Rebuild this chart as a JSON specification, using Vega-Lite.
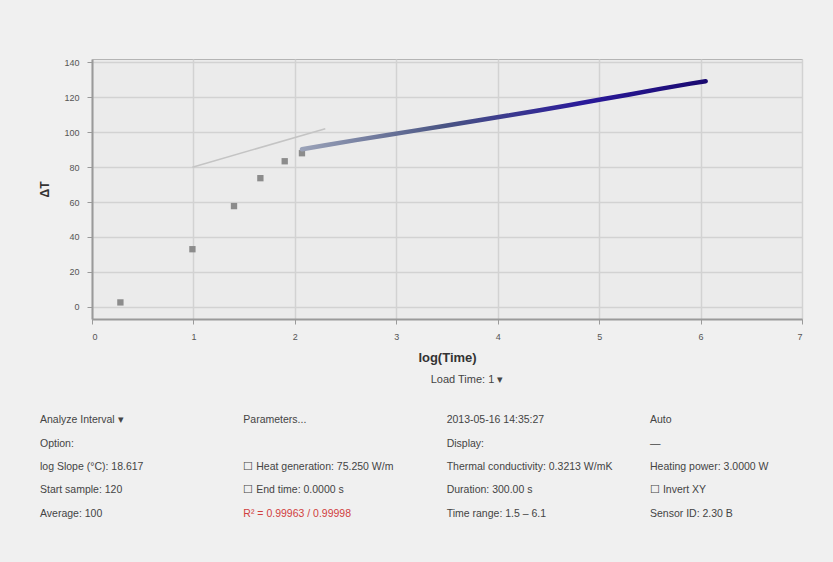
{
  "$schema": "https://vega.github.io/schema/vega-lite/v6.json",
  "background": "#f0f0f0",
  "padding": {"left": 38, "top": 57, "right": 31, "bottom": 43},
  "spacing": 9,
  "config": {
    "font": "Liberation Sans",
    "view": {"fill": "#ebebeb", "stroke": "#b4b4b4"},
    "axis": {
      "labelFont": "Liberation Sans",
      "titleFont": "Liberation Sans",
      "labelFontSize": 9,
      "labelColor": "#555555",
      "gridColor": "#d2d2d2",
      "gridWidth": 1.5,
      "domainColor": "#9a9a9a",
      "domainWidth": 2,
      "tickColor": "#9a9a9a"
    }
  },
  "datasets": {
    "early": [
      {"x": 0.28, "y": 2.5},
      {"x": 0.99, "y": 33},
      {"x": 1.40, "y": 57.7},
      {"x": 1.66, "y": 73.7},
      {"x": 1.90, "y": 83.4},
      {"x": 2.07, "y": 88.0}
    ],
    "trend": [
      {"x": 2.07, "y": 90.3},
      {"x": 2.30, "y": 92.6},
      {"x": 2.60, "y": 95.5},
      {"x": 2.90, "y": 98.3},
      {"x": 3.20, "y": 101.1},
      {"x": 3.50, "y": 103.9},
      {"x": 3.80, "y": 106.8},
      {"x": 4.10, "y": 109.6},
      {"x": 4.40, "y": 112.5},
      {"x": 4.70, "y": 115.5},
      {"x": 5.00, "y": 118.6},
      {"x": 5.30, "y": 121.7},
      {"x": 5.60, "y": 124.9},
      {"x": 5.90, "y": 127.9},
      {"x": 6.05, "y": 129.3}
    ],
    "fit": [
      {"x": 0.99, "y": 80.0},
      {"x": 2.30, "y": 102.0}
    ],
    "form": [
      {"row": 1, "col": 1, "text": "Analyze Interval ▾", "kind": "normal"},
      {"row": 1, "col": 2, "text": "Parameters...", "kind": "normal"},
      {"row": 1, "col": 3, "text": "2013-05-16 14:35:27", "kind": "normal"},
      {"row": 1, "col": 4, "text": "Auto", "kind": "normal"},
      {"row": 2, "col": 1, "text": "Option:", "kind": "normal"},
      {"row": 2, "col": 2, "text": "", "kind": "normal"},
      {"row": 2, "col": 3, "text": "Display:", "kind": "normal"},
      {"row": 2, "col": 4, "text": "—", "kind": "normal"},
      {"row": 3, "col": 1, "text": "log Slope (°C): 18.617", "kind": "normal"},
      {"row": 3, "col": 2, "text": "☐ Heat generation: 75.250 W/m", "kind": "normal"},
      {"row": 3, "col": 3, "text": "Thermal conductivity: 0.3213 W/mK", "kind": "normal"},
      {"row": 3, "col": 4, "text": "Heating power: 3.0000 W", "kind": "normal"},
      {"row": 4, "col": 1, "text": "Start sample: 120", "kind": "normal"},
      {"row": 4, "col": 2, "text": "☐ End time: 0.0000 s", "kind": "normal"},
      {"row": 4, "col": 3, "text": "Duration: 300.00 s", "kind": "normal"},
      {"row": 4, "col": 4, "text": "☐ Invert XY", "kind": "normal"},
      {"row": 5, "col": 1, "text": "Average: 100", "kind": "normal"},
      {"row": 5, "col": 2, "text": "R² = 0.99963 / 0.99998", "kind": "warning"},
      {"row": 5, "col": 3, "text": "Time range: 1.5 – 6.1", "kind": "normal"},
      {"row": 5, "col": 4, "text": "Sensor ID: 2.30 B", "kind": "normal"}
    ]
  },
  "vconcat": [
    {
      "width": 710,
      "height": 260,
      "encoding": {
        "x": {
          "field": "x",
          "type": "quantitative",
          "scale": {"domain": [0, 7], "nice": false},
          "axis": {
            "values": [0, 1, 2, 3, 4, 5, 6, 7],
            "format": "d",
            "labelOverlap": false,
            "title": "log(Time)",
            "titleFontSize": 13,
            "titleFontWeight": "bold",
            "titleColor": "#333333",
            "labelPadding": 8,
            "titlePadding": 10
          }
        },
        "y": {
          "field": "y",
          "type": "quantitative",
          "scale": {"domain": [-7, 142], "nice": false, "zero": false},
          "axis": {
            "values": [0, 20, 40, 60, 80, 100, 120, 140],
            "format": "d",
            "labelOverlap": false,
            "title": "ΔT",
            "titleFontSize": 12,
            "titleFontWeight": "bold",
            "titleColor": "#333333",
            "labelPadding": 8,
            "titlePadding": 12
          }
        }
      },
      "layer": [
        {
          "data": {"name": "fit"},
          "mark": {"type": "line", "color": "#c4c4c4", "strokeWidth": 1.5}
        },
        {
          "data": {"name": "early"},
          "mark": {"type": "square", "filled": true, "color": "#8c8c8c", "size": 40, "opacity": 1}
        },
        {
          "data": {"name": "trend"},
          "mark": {
            "type": "line",
            "strokeWidth": 4.5,
            "strokeCap": "round",
            "color": {
              "gradient": "linear",
              "x1": 0, "y1": 0, "x2": 1, "y2": 0,
              "stops": [
                {"offset": 0, "color": "#9aa2b8"},
                {"offset": 0.35, "color": "#4a5584"},
                {"offset": 0.7, "color": "#2a1a9a"},
                {"offset": 1, "color": "#1a0a70"}
              ]
            }
          }
        }
      ]
    },
    {
      "width": 710,
      "height": 108,
      "title": {"text": "Load Time: 1 ▾", "fontSize": 11, "fontWeight": "normal", "color": "#444444", "offset": 28, "dx": 20},
      "view": {"fill": null, "stroke": null},
      "data": {"name": "form"},
      "mark": {"type": "text", "align": "left", "baseline": "middle", "fontSize": 10.5, "font": "Liberation Sans"},
      "encoding": {
        "x": {"field": "col", "type": "ordinal", "scale": {"type": "point", "range": [-52, 558], "padding": 0}, "axis": null},
        "y": {"field": "row", "type": "ordinal", "scale": {"type": "point", "padding": 0.3}, "axis": null},
        "text": {"field": "text"},
        "color": {
          "field": "kind",
          "type": "nominal",
          "scale": {"domain": ["normal", "warning"], "range": ["#444444", "#d04040"]},
          "legend": null
        }
      }
    }
  ]
}
